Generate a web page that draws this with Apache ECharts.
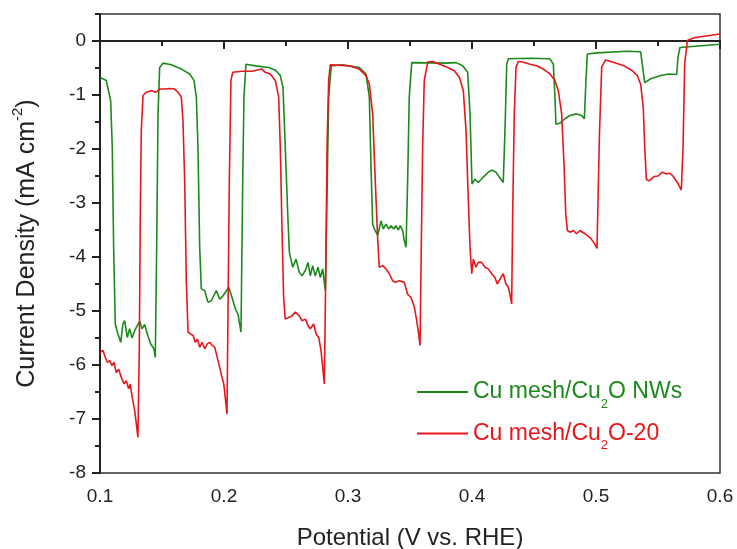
<!DOCTYPE html>
<html><head><meta charset="utf-8">
<script src="https://cdn.jsdelivr.net/npm/echarts@6/dist/echarts.min.js"></script>
<style>html,body{margin:0;padding:0;background:#fff}#c{width:737px;height:549px}</style>
</head><body><div id="c"></div>
<script>
const seriesNames = ['Cu mesh/Cu2O NWs', 'Cu mesh/Cu2O-20'];
const xTicks = [0.1, 0.2, 0.3, 0.4, 0.5, 0.6];
const yTicks = [-8, -7, -6, -5, -4, -3, -2, -1, 0];
const yMinorTicks = [-7.5, -6.5, -5.5, -4.5, -3.5, -2.5, -1.5, -0.5, 0.5];

const greenV = [0.100,0.1051,0.1086,0.1099,0.1110,0.1123,0.1140,0.1167,0.1185,0.1199,
0.1220,0.1239,0.1258,0.1280,0.1301,0.1320,0.1339,0.1360,0.1382,0.1409,
0.1435,0.1446,0.1457,0.1468,0.1481,0.1508,0.1575,0.1656,0.1723,0.1758,
0.1777,0.1790,0.1804,0.1817,0.1844,0.1871,0.1898,0.1938,0.1965,0.1992,
0.2038,0.2065,0.2091,0.2113,0.2137,0.2151,0.2161,0.2177,0.2253,0.2360,
0.2414,0.2454,0.2476,0.2494,0.2514,0.2527,0.2554,0.2581,0.2607,0.2629,
0.2656,0.2677,0.2696,0.2715,0.2736,0.2758,0.2777,0.2796,0.2817,0.2833,
0.2844,0.2865,0.2952,0.3008,0.3091,0.3145,0.3172,0.3185,0.3199,0.3212,
0.3240,0.3266,0.3285,0.3306,0.3328,0.3347,0.3368,0.3387,0.3406,0.3422,
0.3441,0.3454,0.3468,0.3481,0.3494,0.3514,0.3790,0.3871,0.3925,0.3965,
0.3984,0.4000,0.4024,0.4051,0.4091,0.4131,0.4159,0.4194,0.4220,0.4252,
0.4266,0.4280,0.4293,0.4468,0.4629,0.4656,0.4669,0.4677,0.4710,0.4750,
0.4790,0.4844,0.4885,0.4906,0.4919,0.4930,0.5008,0.5252,0.5360,0.5373,
0.5393,0.5441,0.5522,0.5589,0.5651,0.5661,0.5677,0.6000];
const greenJ = [-0.67,-0.73,-1.11,-1.97,-3.82,-5.24,-5.39,-5.58,-5.24,-5.18,
-5.49,-5.33,-5.50,-5.36,-5.27,-5.19,-5.33,-5.25,-5.43,-5.61,
-5.70,-5.86,-3.82,-1.35,-0.49,-0.41,-0.44,-0.52,-0.61,-0.73,
-1.04,-1.96,-3.82,-4.59,-4.62,-4.84,-4.81,-4.62,-4.78,-4.72,
-4.56,-4.75,-4.96,-5.06,-5.39,-2.59,-1.04,-0.43,-0.46,-0.49,
-0.54,-0.64,-0.86,-1.97,-3.20,-3.91,-4.19,-4.04,-4.28,-4.35,
-4.25,-4.10,-4.35,-4.16,-4.35,-4.19,-4.38,-4.22,-4.62,-2.59,
-1.04,-0.46,-0.44,-0.46,-0.49,-0.61,-1.04,-2.28,-3.39,-3.48,
-3.60,-3.33,-3.48,-3.39,-3.48,-3.42,-3.48,-3.42,-3.50,-3.42,
-3.51,-3.70,-3.82,-2.59,-1.04,-0.40,-0.41,-0.40,-0.46,-0.58,
-1.35,-2.65,-2.56,-2.62,-2.52,-2.43,-2.39,-2.43,-2.52,-2.62,
-1.66,-0.43,-0.33,-0.32,-0.33,-0.43,-1.04,-1.54,-1.52,-1.44,
-1.38,-1.35,-1.38,-1.44,-0.73,-0.24,-0.22,-0.19,-0.20,-0.43,
-0.77,-0.70,-0.64,-0.61,-0.62,-0.30,-0.12,-0.06];

const redV = [0.1000,0.1024,0.1043,0.1059,0.1078,0.1097,0.1113,0.1131,0.1151,0.1172,
0.1194,0.1212,0.1231,0.1244,0.1260,0.1280,0.1293,0.1306,0.1317,0.1325,
0.1333,0.1347,0.1373,0.1414,0.1454,0.1481,0.1522,0.1562,0.1602,0.1629,
0.1656,0.1669,0.1683,0.1696,0.1710,0.1731,0.1750,0.1769,0.1785,0.1804,
0.1823,0.1844,0.1865,0.1885,0.1906,0.1925,0.1952,0.1978,0.1998,0.2010,
0.2024,0.2032,0.2043,0.2056,0.2070,0.2145,0.2226,0.2306,0.2333,0.2373,
0.2414,0.2441,0.2454,0.2468,0.2481,0.2494,0.2522,0.2548,0.2575,0.2607,
0.2629,0.2656,0.2677,0.2696,0.2723,0.2744,0.2764,0.2782,0.2796,0.2809,
0.2820,0.2831,0.2844,0.2857,0.3008,0.3091,0.3145,0.3172,0.3199,0.3220,
0.3240,0.3252,0.3280,0.3306,0.3333,0.3360,0.3381,0.3414,0.3454,0.3481,
0.3508,0.3535,0.3554,0.3570,0.3581,0.3591,0.3602,0.3615,0.3643,0.3683,
0.3750,0.3804,0.3857,0.3898,0.3930,0.3952,0.3965,0.3984,0.3998,0.4011,
0.4032,0.4051,0.4078,0.4105,0.4131,0.4159,0.4185,0.4204,0.4226,0.4252,
0.4274,0.4293,0.4306,0.4320,0.4328,0.4341,0.4355,0.4373,0.4411,0.4468,
0.4522,0.4575,0.4629,0.4669,0.4696,0.4723,0.4742,0.4756,0.4769,0.4790,
0.4817,0.4844,0.4871,0.4911,0.4952,0.4979,0.5008,0.5028,0.5046,0.5078,
0.5145,0.5226,0.5293,0.5333,0.5360,0.5381,0.5393,0.5406,0.5427,0.5468,
0.5500,0.5535,0.5565,0.5597,0.5624,0.5656,0.5688,0.5702,0.5715,0.5737,
0.5790,0.6000];
const redJ = [-5.77,-5.73,-5.86,-5.95,-5.92,-6.01,-5.95,-6.14,-6.08,-6.23,
-6.35,-6.29,-6.44,-6.35,-6.60,-6.85,-7.09,-7.34,-5.67,-3.20,
-1.66,-1.01,-0.95,-0.92,-0.95,-0.89,-0.89,-0.88,-0.89,-0.95,
-1.04,-1.48,-2.59,-4.44,-5.39,-5.43,-5.45,-5.58,-5.52,-5.67,
-5.58,-5.70,-5.61,-5.58,-5.64,-5.67,-5.92,-6.17,-6.35,-6.60,
-6.91,-5.06,-2.59,-0.73,-0.58,-0.56,-0.56,-0.52,-0.58,-0.61,
-0.73,-1.04,-1.97,-3.51,-4.75,-5.15,-5.12,-5.09,-5.02,-5.09,
-5.18,-5.15,-5.27,-5.33,-5.24,-5.43,-5.49,-5.73,-6.04,-6.35,
-4.44,-1.97,-0.73,-0.44,-0.46,-0.52,-0.64,-0.80,-1.35,-2.59,
-3.70,-4.19,-4.16,-4.22,-4.31,-4.44,-4.47,-4.44,-4.47,-4.69,
-4.75,-4.93,-5.18,-5.43,-5.64,-3.82,-1.97,-0.73,-0.39,-0.38,
-0.44,-0.49,-0.55,-0.67,-0.92,-1.66,-2.59,-3.82,-4.31,-4.04,
-4.19,-4.10,-4.10,-4.19,-4.22,-4.31,-4.38,-4.50,-4.41,-4.31,
-4.50,-4.56,-4.69,-4.87,-3.20,-1.35,-0.49,-0.38,-0.39,-0.43,
-0.46,-0.52,-0.61,-0.73,-0.92,-1.35,-2.28,-3.20,-3.51,-3.54,
-3.51,-3.57,-3.51,-3.57,-3.64,-3.72,-3.84,-1.71,-0.48,-0.35,
-0.40,-0.46,-0.55,-0.64,-0.80,-1.23,-1.97,-2.56,-2.59,-2.51,
-2.50,-2.43,-2.46,-2.45,-2.51,-2.62,-2.76,-1.97,-0.43,0.01,
0.06,0.13];

const GREEN = '#1b8a1b';
const RED = '#e8161b';
const INK = '#222';
const FONT = '"Liberation Sans", Arial, sans-serif';

function pairs(xs, ys) { return xs.map((x, i) => [x, ys[i]]); }

const chart = echarts.init(document.getElementById('c'), null, { renderer: 'canvas' });
chart.setOption({
  animation: false,
  backgroundColor: '#fff',
  grid: { left: 100, right: 17, top: 14, bottom: 76, containLabel: false, outerBoundsMode: 'none',
    show: true, borderColor: '#333', borderWidth: 1.5 },
  legend: {
    orient: 'vertical', left: 417, top: 380, padding: 0, itemGap: 11,
    itemWidth: 51, itemHeight: 2, icon: 'rect',
    textStyle: { fontSize: 23, fontFamily: FONT, lineHeight: 24,
      rich: {
        sg: { fontSize: 13, fontFamily: FONT, color: GREEN, padding: [12, 0, -12, 0] },
        sr: { fontSize: 13, fontFamily: FONT, color: RED, padding: [12, 0, -12, 0] }
      } },
    formatter: function (n) {
      return n === seriesNames[0] ? 'Cu mesh/Cu{sg|2}O NWs' : 'Cu mesh/Cu{sr|2}O-20';
    },
    data: [
      { name: seriesNames[0], textStyle: { color: GREEN } },
      { name: seriesNames[1], textStyle: { color: RED } }
    ]
  },
  xAxis: {
    type: 'value', min: xTicks[0], max: xTicks[xTicks.length - 1], interval: 0.1,
    axisLine: { lineStyle: { color: INK, width: 2 } },
    axisTick: { length: 8, lineStyle: { color: INK, width: 2 } },
    minorTick: { show: true, splitNumber: 2, length: 5, lineStyle: { color: INK, width: 2 } },
    splitLine: { show: false },
    axisLabel: { fontSize: 19, color: INK, fontFamily: FONT, margin: 14, formatter: v => v.toFixed(1) },
    name: 'Potential (V vs. RHE)', nameLocation: 'middle', nameGap: 53,
    nameTextStyle: { fontSize: 24, color: INK, fontFamily: FONT }
  },
  yAxis: [{
    type: 'value', min: -8, max: 0.5, interval: 0.5, position: 'left',
    axisLine: { show: true, lineStyle: { color: INK, width: 2 } },
    axisTick: { customValues: yTicks, length: 8, lineStyle: { color: INK, width: 2 } },
    axisLabel: { customValues: yTicks, fontSize: 19, color: INK, fontFamily: FONT, margin: 14, formatter: v => String(v) },
    splitLine: { show: false },
    name: 'Current Density (mA cm{sup|-2})', nameLocation: 'middle', nameGap: 60, nameRotate: 90,
    nameTextStyle: { fontSize: 25, color: INK, fontFamily: FONT,
      rich: { sup: { fontSize: 15, color: INK, fontFamily: FONT, padding: [-10, 0, 10, 0] } } }
  }, {
    type: 'value', min: -8, max: 0.5, interval: 0.5, position: 'left',
    axisLine: { show: false },
    axisTick: { customValues: yMinorTicks, length: 5, lineStyle: { color: INK, width: 2 } },
    axisLabel: { show: false },
    splitLine: { show: false }
  }],
  series: [
    { name: seriesNames[0], type: 'line', yAxisIndex: 0, showSymbol: false, symbol: 'none',
      lineStyle: { color: GREEN, width: 1.6 }, itemStyle: { color: GREEN },
      data: pairs(greenV, greenJ) },
    { name: seriesNames[1], type: 'line', yAxisIndex: 0, showSymbol: false, symbol: 'none',
      lineStyle: { color: RED, width: 1.6 }, itemStyle: { color: RED },
      data: pairs(redV, redJ) }
  ]
});
</script></body></html>
